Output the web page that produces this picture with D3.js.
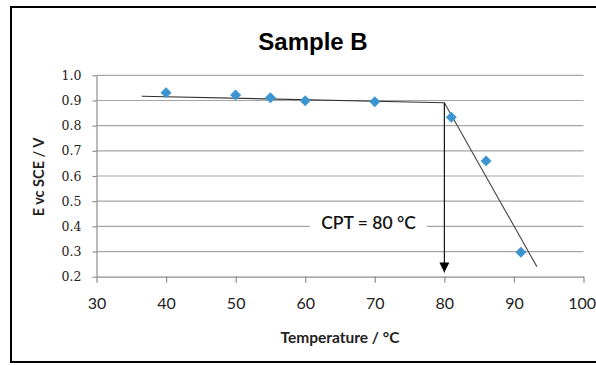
<!DOCTYPE html>
<html>
<head>
<meta charset="utf-8">
<script src="https://cdn.jsdelivr.net/npm/d3@7"></script>
<style>
  html, body { margin: 0; padding: 0; background: #fff; overflow: hidden; }
  svg { display: block; }
</style>
</head>
<body>
<svg id="chart" width="596" height="365"></svg>
<script>
// Measured potential vs temperature
const temperatures = [40, 50, 55, 60, 70, 81, 86, 91];
const potentials   = [0.931, 0.922, 0.911, 0.899, 0.895, 0.833, 0.660, 0.297];

// Passive-region fit and breakdown-region fit
const passiveFit   = [[36.5, 0.917], [80, 0.891]];
const breakdownFit = [[80, 0.891], [93.3, 0.240]];

// CPT marker: from the fit intersection down to the axis
const cptArrow = [[80, 0.891], [80, 0.217]];
const cptLabel = "CPT = 80 °C";

const xTicks = [30, 40, 50, 60, 70, 80, 90, 100];
const yTicks = [0.2, 0.3, 0.4, 0.5, 0.6, 0.7, 0.8, 0.9, 1.0];

const svg = d3.select("#chart");

const x = d3.scaleLinear().domain([30, 100]).range([96.5, 583.5]);
const y = d3.scaleLinear().domain([0.2, 1.0]).range([276.7, 75.3]);

// Outer frame (runs off the right edge)
svg.append("path")
  .attr("d", "M700,7 H11 V362 H700")
  .attr("fill", "none")
  .attr("stroke", "#000").attr("stroke-width", 2);

// Title
svg.append("text")
  .attr("x", 313).attr("y", 50)
  .attr("text-anchor", "middle")
  .attr("font-family", "Liberation Sans, Arial, sans-serif")
  .attr("font-weight", "bold")
  .attr("font-size", 24)
  .text("Sample B");

// Horizontal gridlines
svg.append("g")
  .selectAll("line")
  .data(yTicks.filter(d => d > 0.2))
  .join("line")
  .attr("x1", x(30)).attr("x2", x(100))
  .attr("y1", d => y(d)).attr("y2", d => y(d))
  .attr("stroke", "#a6a6a6").attr("stroke-width", 1.2);

// Y axis
const yAxis = d3.axisLeft(y).tickValues(yTicks).tickFormat(d3.format(".1f")).tickSize(4).tickSizeOuter(0).tickPadding(11);
const gy = svg.append("g").attr("transform", `translate(${x(30)},0)`).call(yAxis);
gy.select(".domain").attr("stroke", "#8c8c8c").attr("stroke-width", 1.2);
gy.selectAll(".tick line").attr("stroke", "#8c8c8c").attr("stroke-width", 1.2);
gy.selectAll(".tick text")
  .attr("font-family", "DejaVu Serif, serif")
  .attr("font-size", 12.5)
  .attr("fill", "#222");

// X axis
const xAxis = d3.axisBottom(x).tickValues(xTicks).tickFormat(d3.format("d")).tickSize(6).tickSizeOuter(0).tickPadding(15);
const gx = svg.append("g").attr("transform", `translate(0,${y(0.2)})`).call(xAxis);
gx.select(".domain").attr("stroke", "#8c8c8c").attr("stroke-width", 1.2);
gx.selectAll(".tick line").attr("stroke", "#8c8c8c").attr("stroke-width", 1.2);
gx.selectAll(".tick text")
  .attr("font-family", "Lato, sans-serif")
  .attr("font-size", 16)
  .attr("fill", "#222");
// keep the last label inside the page
gx.selectAll(".tick text").filter(d => d === 100)
  .attr("text-anchor", "end").attr("dx", 12);

// Axis titles
svg.append("text")
  .attr("x", 340).attr("y", 343)
  .attr("text-anchor", "middle")
  .attr("font-family", "Lato, sans-serif")
  .attr("font-weight", "bold")
  .attr("font-size", 15.5)
  .attr("fill", "#222")
  .text("Temperature / °C");

svg.append("text")
  .attr("transform", "translate(44,177) rotate(-90)")
  .attr("text-anchor", "middle")
  .attr("font-family", "Lato, sans-serif")
  .attr("font-weight", "bold")
  .attr("font-size", 14.5)
  .attr("fill", "#222")
  .text("E vc SCE / V");

// CPT label on a white patch over the gridline
const labelG = svg.append("g");
labelG.append("rect")
  .attr("x", 310).attr("y", 212)
  .attr("width", 117).attr("height", 24)
  .attr("fill", "#fff");
labelG.append("text")
  .attr("x", 368.5).attr("y", 228.5)
  .attr("text-anchor", "middle")
  .attr("font-family", "Lato, sans-serif")
  .attr("font-weight", 600)
  .attr("font-size", 17.5)
  .attr("fill", "#111")
  .text(cptLabel);

const line = d3.line().x(d => x(d[0])).y(d => y(d[1]));

// Fit lines
svg.append("path").datum(passiveFit).attr("d", line)
  .attr("fill", "none").attr("stroke", "#333").attr("stroke-width", 1.1);
svg.append("path").datum(breakdownFit).attr("d", line)
  .attr("fill", "none").attr("stroke", "#444").attr("stroke-width", 1.1);

// Arrow to the CPT
svg.append("defs").append("marker")
  .attr("id", "arrowHead")
  .attr("viewBox", "0 0 10 10")
  .attr("refX", 10).attr("refY", 5)
  .attr("markerUnits", "userSpaceOnUse")
  .attr("markerWidth", 10).attr("markerHeight", 11)
  .attr("orient", "auto")
  .append("path").attr("d", "M0,0 L10,5 L0,10 Z").attr("fill", "#000");

svg.append("path").datum(cptArrow).attr("d", line)
  .attr("fill", "none").attr("stroke", "#000").attr("stroke-width", 1.1)
  .attr("marker-end", "url(#arrowHead)");

// Data markers (diamonds)
svg.append("g")
  .selectAll("path")
  .data(temperatures.map((t, i) => [t, potentials[i]]))
  .join("path")
  .attr("transform", d => `translate(${x(d[0])},${y(d[1])}) rotate(45)`)
  .attr("d", d3.symbol().type(d3.symbolSquare).size(60))
  .attr("fill", "#3c95d0");
</script>
</body>
</html>
